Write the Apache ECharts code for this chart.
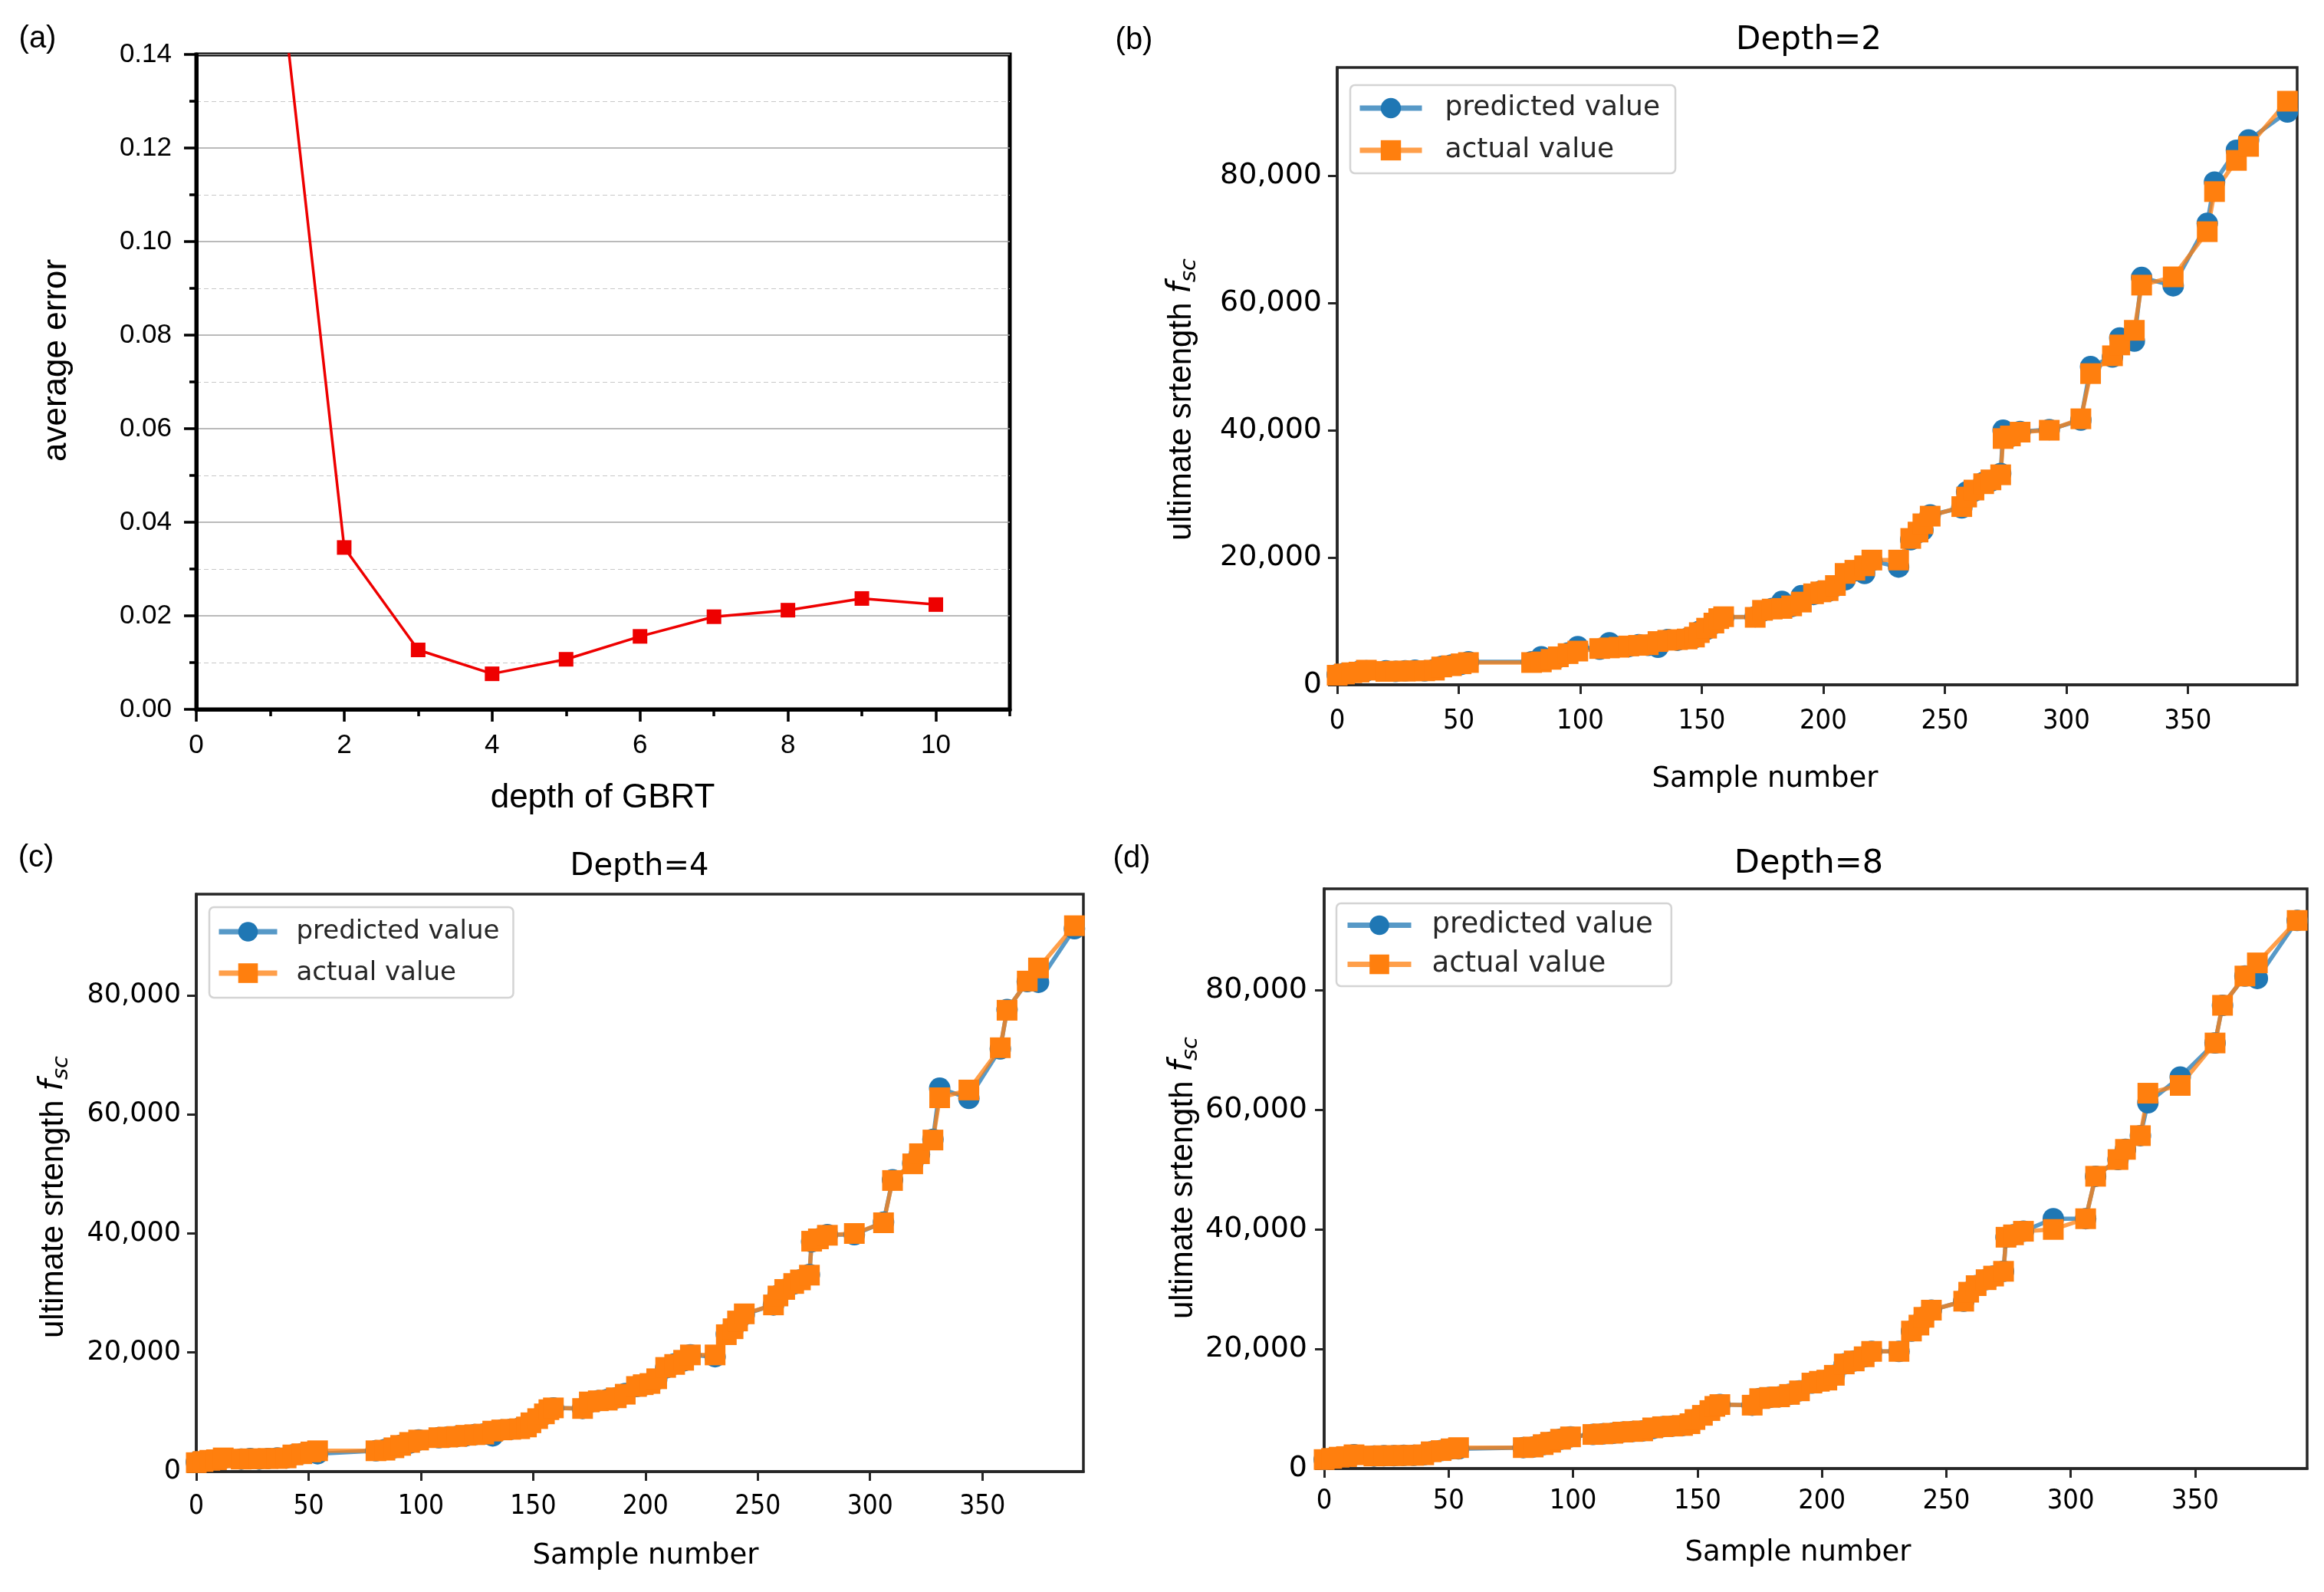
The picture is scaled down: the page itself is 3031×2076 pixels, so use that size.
<!DOCTYPE html>
<html>
<head>
<meta charset="utf-8">
<script src="https://cdn.jsdelivr.net/npm/echarts@6/dist/echarts.min.js"></script>
<style>
html,body{margin:0;padding:0;background:#ffffff;}
#c{width:3031px;height:2076px;}
</style>
</head>
<body>
<div id="c"></div>
<script>
// ---------------- data ----------------
const depthLevels = [1, 2, 3, 4, 5, 6, 7, 8, 9, 10];
const averageError = [0.176, 0.0346, 0.0127, 0.0076, 0.0107, 0.0156, 0.0198, 0.0212, 0.0237, 0.0224];
const depthTicks = [0, 2, 4, 6, 8, 10];
const depthMinorTicks = [1, 3, 5, 7, 9, 11];

const sampleNumber = [0,3,6,9,12, 20,24,28,32,36,40, 43,47,51,54, 80,84,88,91,95,99,
  108,112,116,120,124,128, 132,136,140,144,147, 149,152,155,157,159, 172,175,179,183,
  187,191, 196,199,202,205, 209,213,217,220, 231, 236,239,241,244,
  257,259,262,266,269,273, 274,277,281, 293, 306, 310, 319,322, 328, 331, 344, 358, 361, 370, 375, 391];

const actualValue = [1500,1700,1900,2000,2300, 2100,2150,2150,2200,2200,2300, 2800,3000,3300,3500,
  3500,3600,4000,4400,4900,5300, 5700,5800,5900,6100,6200,6300, 6800,7000,7100,7200,7500,
  8200,8900,9700,10400,10700, 10600,11700,11900,12000, 12400,13000, 14300,14600,14800,15600,
  17500,18000,18700,19600, 19600, 23000,24000,25300,26500, 28000,29500,30600,31600,32200,33000,
  38700,39100,39700, 40000, 41800, 48900, 51700,53400, 55700, 62800, 64100, 71200, 77500, 82400, 84600, 91700];

const predictedDepth2 = [1600,1800,1900,2100,2200, 2200,2100,2200,2300,2200,2400, 2900,3100,3200,3600,
  3600,4400,4100,4300,5000,6000, 5600,6600,6000,6000,6300,6200, 5900,7100,7000,7300,7400,
  8400,8700,9600,10500,10600, 10700,11600,12000,13100, 12300,14000, 14200,14700,14700,15500,
  16500,17900,17500,19500, 18500, 22800,23900,24300,26700, 27800,30300,30400,31800,32000,33200,
  40000,39000,39800, 40100, 41600, 50000, 51500,54500, 54000, 64000, 62700, 72500, 79000, 84000, 85600, 90000];

const predictedDepth4 = [1600,1700,1900,2000,2200, 2100,2200,2100,2200,2300,2300, 2800,3000,3200,3000,
  3500,3700,4000,4400,4800,5300, 5700,5800,5900,6000,6200,6300, 6000,7000,7100,7300,7500,
  8200,8900,9600,10400,10700, 10600,11600,11900,12100, 12400,13100, 14300,14500,14800,15500,
  17400,18100,18600,19600, 19300, 23100,24000,25100,26400, 28000,29600,30600,31500,32200,33100,
  38600,39100,39800, 39800, 41900, 49000, 51800,53300, 55800, 64400, 62700, 71000, 77600, 82300, 82200, 91200];

const predictedDepth8 = [1500,1700,1900,2000,2300, 2100,2150,2150,2200,2200,2300, 2800,3000,3300,3300,
  3500,3600,4000,4400,4900,5300, 5700,5800,5900,6100,6200,6300, 6700,7000,7100,7200,7500,
  8200,8900,9700,10400,10700, 10600,11700,11900,12000, 12400,13000, 14300,14600,14800,15600,
  17500,18000,18700,19600, 19600, 23000,24000,25300,26500, 28000,29500,30600,31600,32200,33000,
  38700,39100,39700, 41800, 41800, 48900, 51700,53400, 55700, 61200, 65500, 71200, 77500, 82400, 82000, 91700];

const sampleTicks = [0, 50, 100, 150, 200, 250, 300, 350];
const strengthTicks = [0, 20000, 40000, 60000, 80000];

// ---------------- helpers ----------------
const pairs = (xs, ys) => xs.map((x, i) => [x, ys[i]]);
const AR = "'Liberation Sans', Arial, sans-serif";
const DJ = "'DejaVu Sans', sans-serif";
const DJC = "'DejaVu Sans Condensed', 'DejaVu Sans', sans-serif";
const spine = '#262626';

function gridBox(left, top, width, height, color, bw) {
  return {left, top, width, height, show: true, borderColor: color, borderWidth: bw,
          backgroundColor: 'transparent', containLabel: false};
}
function sampleAxis(gi, fs, margin) {
  return {gridIndex: gi, type: 'value', min: 0, max: 395, interval: 50,
    axisLine: {show: true, onZero: false, lineStyle: {color: spine, width: 3.5}},
    axisTick: {show: true, customValues: sampleTicks, length: 12, lineStyle: {color: spine, width: 3}},
    axisLabel: {customValues: sampleTicks, fontSize: fs, fontFamily: DJC, color: '#000', margin},
    splitLine: {show: false}};
}
function strengthAxis(gi, fs, margin) {
  return {gridIndex: gi, type: 'value', min: 0, max: 97000, interval: 20000,
    axisLine: {show: true, onZero: false, lineStyle: {color: spine, width: 3.5}},
    axisTick: {show: true, customValues: strengthTicks, length: 12, lineStyle: {color: spine, width: 3}},
    axisLabel: {customValues: strengthTicks, fontSize: fs, fontFamily: DJ, color: '#000', margin,
                formatter: v => Number(v).toLocaleString('en-US')},
    splitLine: {show: false}};
}
function seriesPair(xi, yi, pred) {
  return [
    {name: 'predicted value', type: 'line', xAxisIndex: xi, yAxisIndex: yi,
     data: pairs(sampleNumber, pred), symbol: 'circle', symbolSize: 28,
     itemStyle: {color: '#1f77b4'}, lineStyle: {color: '#1f77b4', width: 5.5, opacity: 0.75},
     emphasis: {disabled: true}},
    {name: 'actual value', type: 'line', xAxisIndex: xi, yAxisIndex: yi,
     data: pairs(sampleNumber, actualValue), symbol: 'rect', symbolSize: 27,
     itemStyle: {color: '#ff7f0e'}, lineStyle: {color: '#ff7f0e', width: 5.5, opacity: 0.75},
     emphasis: {disabled: true}}
  ];
}
function legendAt(left, top, pad, iw, ih, gap, fs, tpad) {
  return {data: ['predicted value', 'actual value'], orient: 'vertical', left, top,
    padding: pad, itemWidth: iw, itemHeight: ih, itemGap: gap, selectedMode: false,
    backgroundColor: 'rgba(255,255,255,0.8)', borderColor: '#d4d4d4', borderWidth: 2.5, borderRadius: 6,
    lineStyle: {width: 7},
    textStyle: {fontSize: fs, fontFamily: DJ, color: '#262626', padding: [0, 0, 0, tpad]}};
}
const ylabRich = {
  f: {fontSize: 42, fontFamily: DJ, fontStyle: 'italic', fill: '#000'},
  s: {fontSize: 29, fontFamily: DJ, fontStyle: 'italic', fill: '#000', padding: [20, 0, 0, 0]}
};
function txt(t, x, y, fs, font, rot, rich) {
  const st = {text: t, fontSize: fs, fontFamily: font, fill: '#000', align: 'center', verticalAlign: 'middle'};
  if (rich) st.rich = rich;
  return {type: 'text', x, y, rotation: rot || 0, style: st, silent: true};
}

// ---------------- option ----------------
const option = {
  animation: false,
  backgroundColor: '#ffffff',
  grid: [
    gridBox(256, 71, 1061, 854, '#000', 5),
    gridBox(1744, 88, 1252, 805, spine, 3.5),
    gridBox(256, 1166, 1157, 753, spine, 3.5),
    gridBox(1727, 1159, 1282, 756, spine, 3.5)
  ],
  xAxis: [
    {gridIndex: 0, type: 'value', min: 0, max: 11, interval: 2, position: 'bottom',
     axisLine: {show: true, onZero: false, lineStyle: {color: '#000', width: 5}},
     axisTick: {show: true, customValues: depthTicks, length: 16, lineStyle: {color: '#000', width: 3.5}},
     axisLabel: {customValues: depthTicks, fontSize: 35, fontFamily: AR, color: '#000', margin: 30},
     splitLine: {show: false}},
    {gridIndex: 0, type: 'value', min: 0, max: 11, interval: 1, position: 'bottom',
     axisLine: {show: false},
     axisTick: {show: true, customValues: depthMinorTicks, length: 9, lineStyle: {color: '#000', width: 3.5}},
     axisLabel: {show: false}, splitLine: {show: false}},
    sampleAxis(1, 36, 30),
    sampleAxis(2, 35, 28),
    sampleAxis(3, 36, 25)
  ],
  yAxis: [
    {gridIndex: 0, type: 'value', min: 0, max: 0.14, interval: 0.02,
     axisLine: {show: true, onZero: false, lineStyle: {color: '#000', width: 5}},
     axisTick: {show: true, length: 16, lineStyle: {color: '#000', width: 3.5}},
     minorTick: {show: true, splitNumber: 2, length: 9, lineStyle: {color: '#000', width: 3.5}},
     axisLabel: {fontSize: 35, fontFamily: AR, color: '#000', margin: 32, formatter: v => Number(v).toFixed(2)},
     splitLine: {show: true, lineStyle: {color: '#a3a3a3', width: 1.5}},
     minorSplitLine: {show: true, lineStyle: {color: '#c8c8c8', width: 1.2, type: [6, 4]}}},
    strengthAxis(1, 38, 20),
    strengthAxis(2, 35, 20),
    strengthAxis(3, 38, 22)
  ],
  legend: [
    legendAt(1761, 111, [12, 20, 12, 9], 81, 33, 19, 36, 25),
    legendAt(273, 1183, [15, 18, 15, 9], 76, 32, 20, 34, 20),
    legendAt(1743, 1178, [10, 24, 10, 11], 83, 32, 14, 37, 22)
  ],
  series: [
    {name: 'average error', type: 'line', xAxisIndex: 0, yAxisIndex: 0, clip: true,
     data: pairs(depthLevels, averageError), symbol: 'rect', symbolSize: 19,
     itemStyle: {color: '#ee0000'}, lineStyle: {color: '#ee0000', width: 3.5},
     emphasis: {disabled: true}},
    ...seriesPair(2, 1, predictedDepth2),
    ...seriesPair(3, 2, predictedDepth4),
    ...seriesPair(4, 3, predictedDepth8)
  ],
  graphic: [
    txt('(a)', 49, 51, 40, AR),
    txt('(b)', 1479, 53, 40, AR),
    txt('(c)', 47, 1119, 40, AR),
    txt('(d)', 1476, 1120, 40, AR),
    txt('average error', 74, 470, 44, AR, Math.PI / 2),
    txt('depth of GBRT', 786, 1041, 44, AR),
    txt('Depth=2', 2359, 53, 42, DJ),
    txt('Depth=4', 834, 1131, 40, DJ),
    txt('Depth=8', 2359, 1127, 43, DJ),
    txt('Sample number', 2302, 1016, 37, DJ),
    txt('Sample number', 842, 2029, 37, DJ),
    txt('Sample number', 2345, 2025, 37, DJ),
    txt('ultimate srtength {f|f}{s|sc}', 1541, 521, 42, AR, Math.PI / 2, ylabRich),
    txt('ultimate srtength {f|f}{s|sc}', 70, 1561, 42, AR, Math.PI / 2, ylabRich),
    txt('ultimate srtength {f|f}{s|sc}', 1543, 1536, 42, AR, Math.PI / 2, ylabRich)
  ]
};

const chart = echarts.init(document.getElementById('c'), null, {renderer: 'canvas', width: 3031, height: 2076});
chart.setOption(option);
</script>
</body>
</html>
